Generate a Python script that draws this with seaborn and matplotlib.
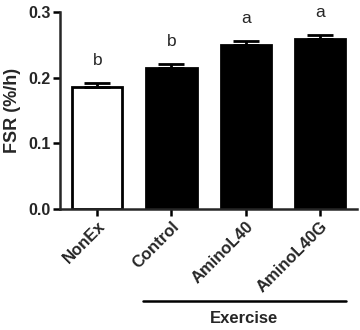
import matplotlib
matplotlib.use("Agg")
import matplotlib.pyplot as plt
import seaborn as sns
import pandas as pd

# data
groups = ["NonEx", "Control", "AminoL40", "AminoL40G"]
fsr = [0.185, 0.215, 0.250, 0.258]
sem = [0.007, 0.006, 0.006, 0.007]
letters = ["b", "b", "a", "a"]
bar_colors = ["white", "black", "black", "black"]

sns.set_style("ticks")
plt.rcParams["font.family"] = ["Liberation Sans", "DejaVu Sans"]

df = pd.DataFrame({"group": groups, "fsr": fsr})

fig = plt.figure(figsize=(3.6, 3.3), dpi=100)
ax = fig.add_axes([0.167, 0.367, 0.825, 0.597])

sns.barplot(data=df, x="group", y="fsr", hue="group", palette=bar_colors,
            legend=False, errorbar=None, width=0.68,
            edgecolor="black", linewidth=2, ax=ax)

# upper error bars only
ax.errorbar(range(len(groups)), fsr, yerr=[[0] * len(sem), sem], fmt="none",
            ecolor="black", elinewidth=2, capsize=9.5, capthick=2, zorder=3)

for i, (v, e, l) in enumerate(zip(fsr, sem, letters)):
    ax.text(i, v + e + 0.022, l, ha="center", va="bottom", fontsize=12.5)

ax.set_ylim(0, 0.3)
ax.set_xlim(-0.5, 3.5)
ax.set_yticks([0.0, 0.1, 0.2, 0.3])
ax.set_yticklabels(["0.0", "0.1", "0.2", "0.3"], fontweight="bold", fontsize=11.5)
ax.set_xticks(range(len(groups)))
ax.set_xticklabels(groups, rotation=45, ha="right", rotation_mode="anchor",
                   fontweight="bold", fontsize=12)
ax.set_xlabel("")
ax.set_ylabel("FSR (%/h)", fontweight="bold", fontsize=13, labelpad=5)

sns.despine(ax=ax)
for s in ["left", "bottom"]:
    ax.spines[s].set_linewidth(1.8)
ax.tick_params(width=1.8, length=5, color="black", pad=2)

# group bracket for exercise groups
ax.plot([0.62, 3.35], [-0.467, -0.467], color="black", lw=1.8,
        transform=ax.get_xaxis_transform(), clip_on=False)
ax.text(1.97, -0.555, "Exercise", ha="center", va="center", fontweight="bold",
        fontsize=12, transform=ax.get_xaxis_transform())

fig.savefig("out.png", dpi=100)
